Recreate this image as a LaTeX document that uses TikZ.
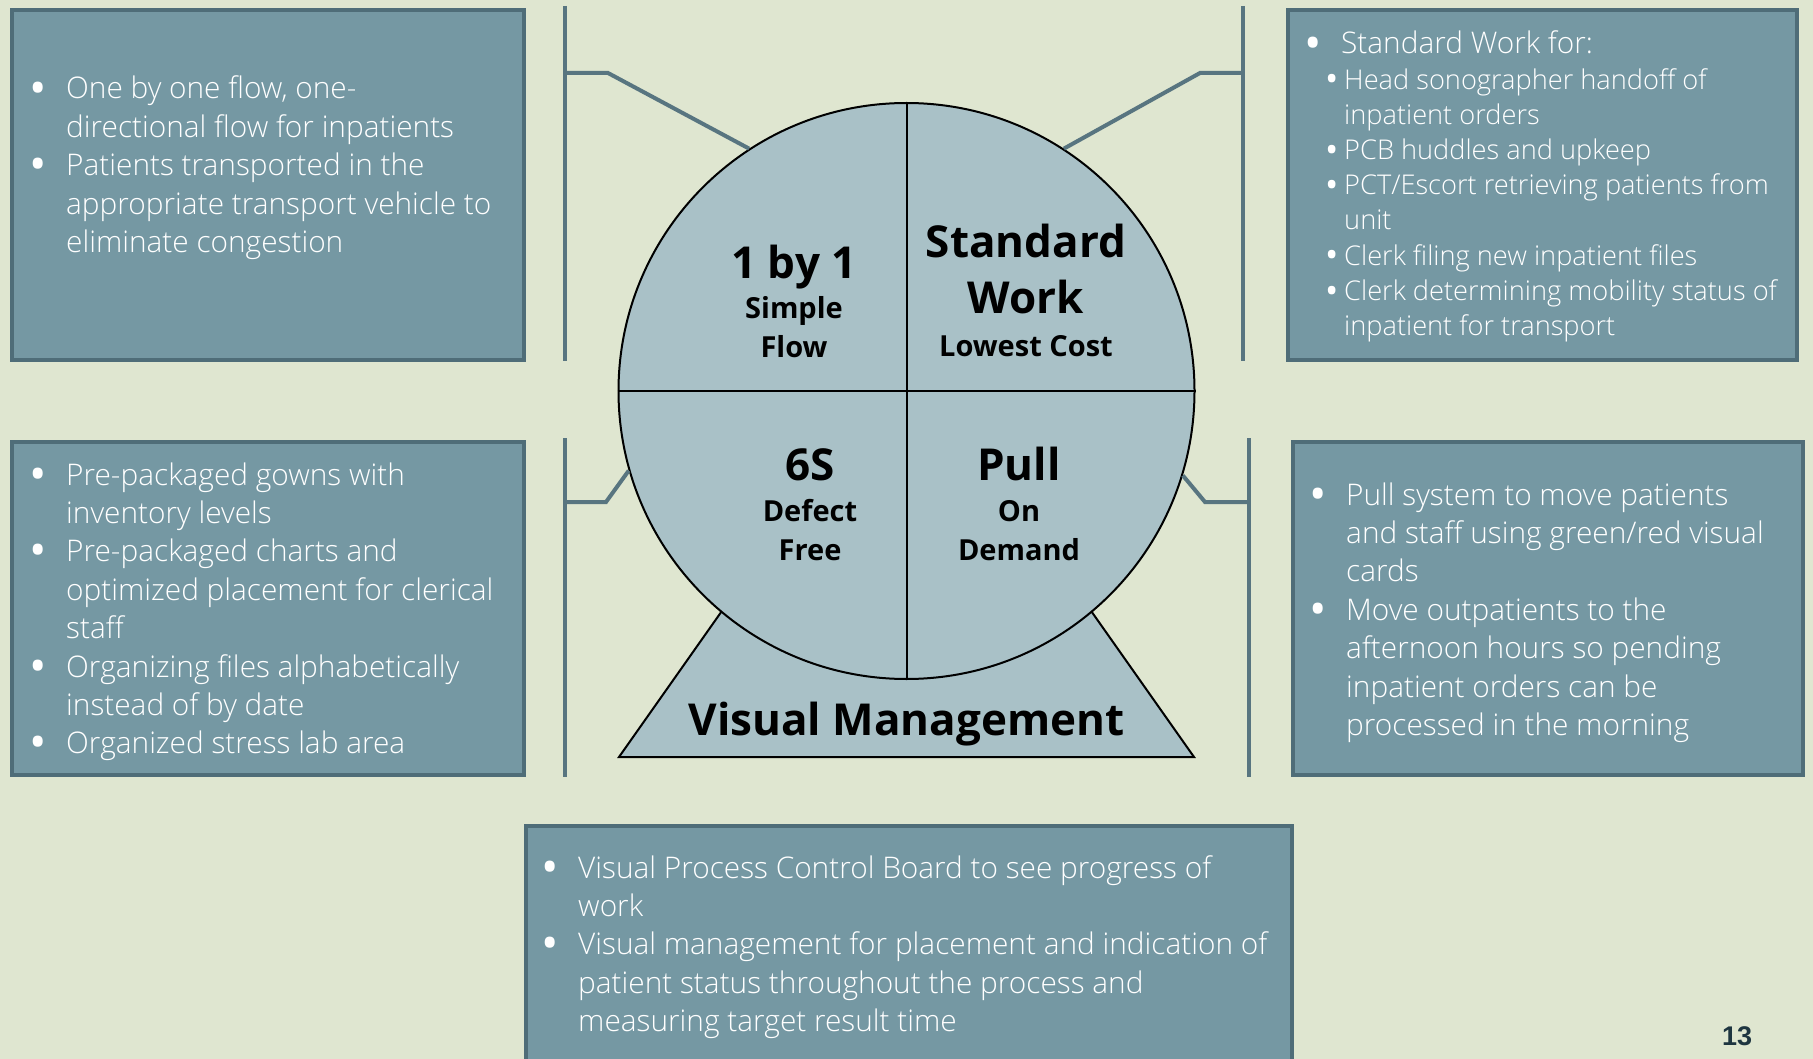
\documentclass[tikz,border=0pt]{standalone}
\usepackage{fontspec}
\setmainfont{Open Sans}
\newfontfamily\lightf{Open Sans Light}
\newfontfamily\regf{Open Sans}
\newfontfamily\numf{Liberation Sans}
\definecolor{bg}{HTML}{DFE6D0}
\definecolor{boxfill}{HTML}{7598A3}
\definecolor{boxline}{HTML}{4F6D78}
\definecolor{circfill}{HTML}{A9C1C7}
\definecolor{conn}{HTML}{587580}
\definecolor{numc}{HTML}{1E3540}
\newcommand\bigbul{\raisebox{-0.17em}{\scalebox{1.55}{\regf\textbullet}}}
\newcommand\smallbul{\raisebox{-0.1em}{\scalebox{1.3}{\regf\textbullet}}}
\newcommand\myitem[2][30pt]{\par\hangindent=#1\hangafter=1\noindent\makebox[#1][l]{\hskip-7pt\bigbul}#2\par}
\newcommand\mysub[1]{\par\hangindent=33pt\hangafter=1\noindent\hskip14pt\makebox[19pt][l]{\smallbul}#1\par}
\newcommand\mylist[3]{\vtop{\hsize=#1\relax\raggedright\parindent=0pt\lightf #2 #3}}
\tikzset{
  box/.style={draw=boxline, fill=boxfill, line width=4pt, anchor=north west, inner sep=0pt},
  txt/.style={anchor=base west, inner sep=0pt, text=white},
  conline/.style={draw=conn, line width=4pt},
  ctitle/.style={anchor=base, inner sep=0pt, font=\bfseries\fontsize{44}{50}\selectfont},
  csub/.style={anchor=base, inner sep=0pt, font=\bfseries\fontsize{29}{34}\selectfont},
}
\begin{document}
\begin{tikzpicture}[x=1pt,y=-1pt]
\fill[bg] (0,0) rectangle (1813,1059);
\useasboundingbox (0,0) rectangle (1813,1059);

% boxes
\node[box, minimum width=512pt, minimum height=350pt] (b1) at (10,8) {};
\node[box, minimum width=509pt, minimum height=350pt] (b2) at (1286,8) {};
\node[box, minimum width=512pt, minimum height=333pt] (b3) at (10,440) {};
\node[box, minimum width=510pt, minimum height=333pt] (b4) at (1291,440) {};
\node[box, minimum width=766pt, minimum height=260pt] (b5) at (524,824) {};

% vertical bars
\coordinate (v1a) at (565,6);   \coordinate (v1b) at (565,361);
\coordinate (v2a) at (1243,6);  \coordinate (v2b) at (1243,361);
\coordinate (v3a) at (565,438); \coordinate (v3b) at (565,777);
\coordinate (v4a) at (1249,438);\coordinate (v4b) at (1249,777);
\draw[conline] (v1a) -- (v1b);
\draw[conline] (v2a) -- (v2b);
\draw[conline] (v3a) -- (v3b);
\draw[conline] (v4a) -- (v4b);

% base triangle
\draw[fill=circfill, line width=2pt] (619,757) -- (1194,757) -- (906.5,349) -- cycle;

% circle
\node[circle, draw, fill=circfill, line width=2pt, minimum size=576pt, inner sep=0pt] (c) at (906.5,391) {};
\draw[line width=2pt] (c.north) -- (c.south);
\draw[line width=2pt] (c.west) -- (c.east);

% connectors
\coordinate (k1a) at (565,73);  \coordinate (k1b) at (608,73);
\coordinate (k2a) at (1243,73); \coordinate (k2b) at (1200,73);
\coordinate (k3a) at (565,502); \coordinate (k3b) at (606,502);
\coordinate (k4a) at (1249,502);\coordinate (k4b) at (1205,502);
\draw[conline] (k1a) -- (k1b) -- (c.123.7);
\draw[conline] (k2a) -- (k2b) -- (c.57.7);
\draw[conline] (k3a) -- (k3b) -- (c.196.8);
\draw[conline] (k4a) -- (k4b) -- (c.343.3);

% circle texts
\node[ctitle] (t1) at (794,279) {1 by 1};
\node[csub] (t1b) at (794,319) {Simple};
\node[csub] (t1c) at (794,357) {Flow};
\node[ctitle] (t2) at (1026,258) {Standard};
\node[ctitle] (t2b) at (1026,314) {Work};
\node[csub] (t2c) at (1026,356) {Lowest Cost};
\node[ctitle] (t3) at (810,480) {6S};
\node[csub] (t3b) at (810,521) {Defect};
\node[csub] (t3c) at (810,560) {Free};
\node[ctitle] (t4) at (1019,480) {Pull};
\node[csub] (t4b) at (1019,521) {On};
\node[csub] (t4c) at (1019,560) {Demand};
\node[anchor=base, inner sep=0pt, font=\bfseries\fontsize{44}{50}\selectfont] (vm) at (906.5,735) {Visual Management};

% box texts
\node[txt] (x1) at (36,99) {\mylist{490pt}{\fontsize{29.8}{38.4}\selectfont}{%
\myitem{One by one flow, one-\newline directional flow for inpatients}
\myitem{Patients transported in the\newline appropriate transport vehicle to\newline eliminate congestion}}};

\node[txt] (x3) at (36,485) {\mylist{490pt}{\fontsize{29.8}{38.4}\selectfont}{%
\myitem{Pre-packaged gowns with\newline inventory levels}
\myitem{Pre-packaged charts and\newline optimized placement for clerical\newline staff}
\myitem{Organizing files alphabetically\newline instead of by date}
\myitem{Organized stress lab area}}};

\node[txt] (x2) at (1311,54) {\mylist{490pt}{\fontsize{29.8}{36}\selectfont}{%
\myitem{Standard Work for:}
\fontsize{27.2}{35.2}\selectfont
\mysub{Head sonographer handoff of\newline inpatient orders}
\mysub{PCB huddles and upkeep}
\mysub{PCT/Escort retrieving patients from\newline unit}
\mysub{Clerk filing new inpatient files}
\mysub{Clerk determining mobility status of\newline inpatient for transport}}};

\node[txt] (x4) at (1316,505) {\mylist{490pt}{\fontsize{29.8}{38.4}\selectfont}{%
\myitem{Pull system to move patients\newline and staff using green/red visual\newline cards}
\myitem{Move outpatients to the\newline afternoon hours so pending\newline inpatient orders can be\newline processed in the morning}}};

\node[txt] (x5) at (548,878) {\mylist{760pt}{\fontsize{29.8}{38.4}\selectfont}{%
\myitem{Visual Process Control Board to see progress of\newline work}
\myitem{Visual management for placement and indication of\newline patient status throughout the process and\newline measuring target result time}}};

\node[anchor=base, inner sep=0pt, text=numc, font=\numf\bfseries\fontsize{27}{30}\selectfont] (pg) at (1737,1045) {13};
\end{tikzpicture}
\end{document}
